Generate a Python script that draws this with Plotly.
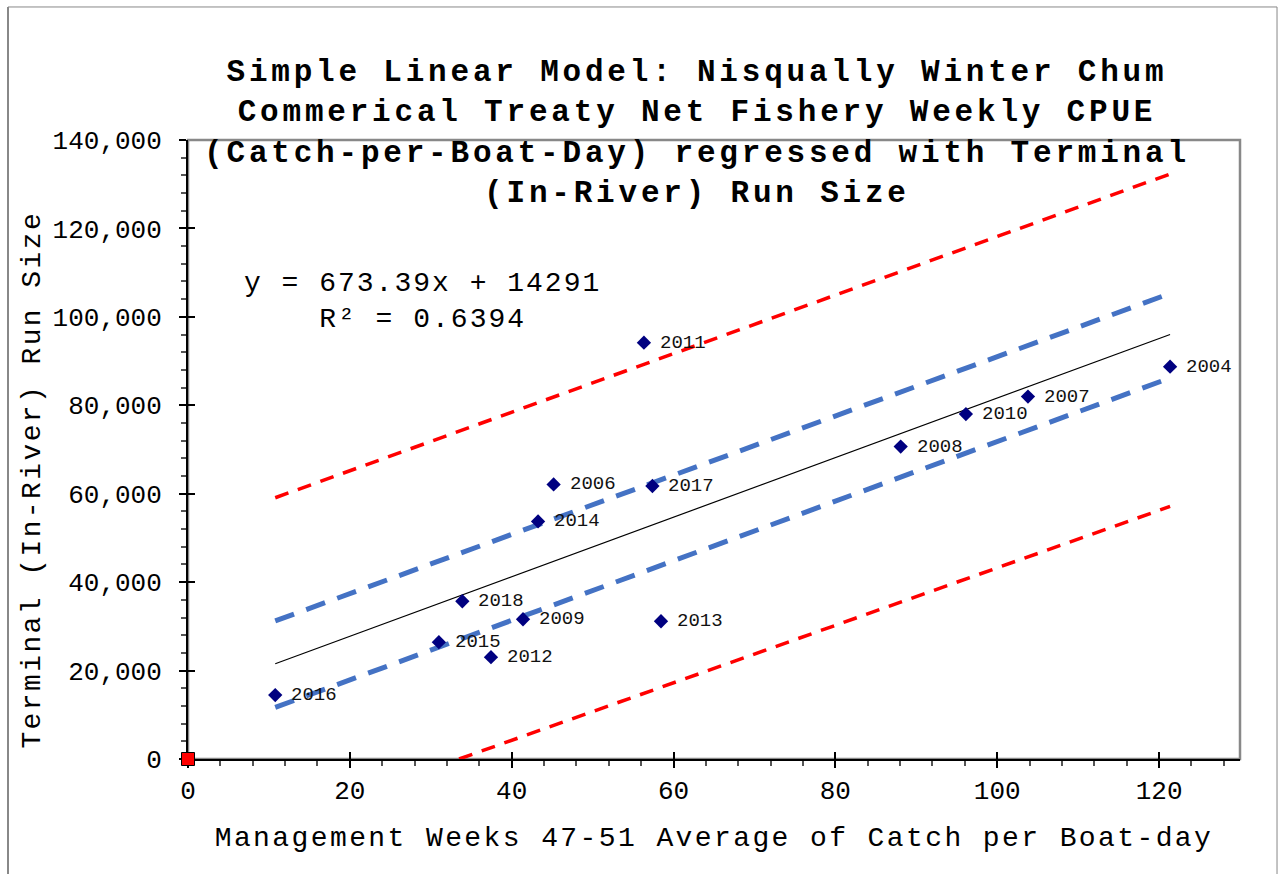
import plotly.graph_objects as go

# ---------------- data ----------------
years = ["2016", "2015", "2018", "2012", "2009", "2014", "2006", "2011",
         "2017", "2013", "2008", "2010", "2007", "2004"]
cpue = [10.78, 31.0, 33.9, 37.44, 41.4, 43.26, 45.18, 56.34,
        57.39, 58.45, 88.07, 96.13, 103.8, 121.36]
run_size = [14450, 26420, 35680, 23030, 31610, 53740, 62090, 94150,
            61750, 31160, 70670, 78010, 81960, 88730]

trend_x = [10.78, 121.36]
trend_y = [21550, 96010]
blue_upper_y = [31230, 105290]
blue_lower_y = [11670, 86180]
red_upper_x = [10.78, 121.36]
red_upper_y = [59090, 132310]
red_lower_x = [33.5, 121.36]
red_lower_y = [0, 57120]

origin_x = [0]
origin_y = [0]

x_ticks = [0, 20, 40, 60, 80, 100, 120]
y_ticks = [0, 20000, 40000, 60000, 80000, 100000, 120000, 140000]

title_lines = ["Simple Linear Model: Nisqually Winter Chum",
               "Commerical Treaty Net Fishery Weekly CPUE",
               "(Catch-per-Boat-Day) regressed with Terminal",
               "(In-River) Run Size"]
equation_lines = ["y = 673.39x + 14291", "R\u00b2 = 0.6394"]
x_title = "Management Weeks 47-51 Average of Catch per Boat-day"
y_title = "Terminal (In-River) Run Size"

MONO = "Liberation Mono, Courier New, monospace"

# ---------------- figure ----------------
fig = go.Figure()

fig.add_trace(go.Scatter(x=red_upper_x, y=red_upper_y, mode="lines",
                         line=dict(color="#FF0000", width=3.5, dash="14px,10px"),
                         hoverinfo="skip", showlegend=False))
fig.add_trace(go.Scatter(x=red_lower_x, y=red_lower_y, mode="lines",
                         line=dict(color="#FF0000", width=3.5, dash="14px,10px"),
                         hoverinfo="skip", showlegend=False))
fig.add_trace(go.Scatter(x=trend_x, y=blue_upper_y, mode="lines",
                         line=dict(color="#4472C4", width=5, dash="20px,13px"),
                         hoverinfo="skip", showlegend=False))
fig.add_trace(go.Scatter(x=trend_x, y=blue_lower_y, mode="lines",
                         line=dict(color="#4472C4", width=5, dash="20px,13px"),
                         hoverinfo="skip", showlegend=False))
fig.add_trace(go.Scatter(x=trend_x, y=trend_y, mode="lines",
                         line=dict(color="#000000", width=1.2),
                         hoverinfo="skip", showlegend=False))
fig.add_trace(go.Scatter(x=cpue, y=run_size, mode="markers",
                         marker=dict(symbol="diamond", size=11, color="#000080"),
                         text=years, showlegend=False))
fig.add_trace(go.Scatter(x=origin_x, y=origin_y, mode="markers",
                         marker=dict(symbol="square", size=13, color="#FF0000",
                                     line=dict(color="#000000", width=1)),
                         cliponaxis=False, showlegend=False,
                         xaxis="x2", yaxis="y2"))

# plot-area border (gray top/right) and outer chart frame
fig.add_shape(type="rect", xref="paper", yref="paper", x0=0, y0=0, x1=1, y1=1,
              line=dict(color="#888888", width=2.5), layer="below")
fig.add_shape(type="line", xref="paper", yref="paper", x0=-0.1711, x1=-0.1711,
              y0=-0.25, y1=1.2149, line=dict(color="#888888", width=2))
fig.add_shape(type="line", xref="paper", yref="paper", x0=-0.1711, x1=1.0352,
              y0=1.2149, y1=1.2149, line=dict(color="#888888", width=1))
fig.add_shape(type="line", xref="paper", yref="paper", x0=1.0352, x1=1.0352,
              y0=-0.25, y1=1.2149, line=dict(color="#888888", width=1))

axis_common = dict(showgrid=False, zeroline=False, showline=True,
                   linecolor="#000000", linewidth=2, layer="below traces",
                   ticks="outside", ticklen=7, tickwidth=1.5, tickcolor="#000000",
                   tickfont=dict(family=MONO, size=26, color="#000000"))

# data labels for each point (to the right of each marker)
annotations = [
    dict(text=yr, x=xv, y=yv, xref="x", yref="y", xanchor="left",
         yanchor="middle", xshift=14, showarrow=False,
         font=dict(family=MONO, size=19, color="#111111"))
    for yr, xv, yv in zip(years, cpue, run_size)
]
annotations += [
    dict(text="<br>".join(equation_lines), xref="paper", yref="paper",
         x=0.2229, y=(759 - 266) / 619, xanchor="center", yanchor="top",
         showarrow=False, align="center", name="equation",
         font=dict(family=MONO, size=28, color="#000000")),
    dict(text=y_title, xref="paper", yref="paper", textangle=-90,
         x=(33 - 188) / 1052, y=(759 - 480) / 619, name="ytitle",
         xanchor="center", yanchor="middle", showarrow=False,
         font=dict(family=MONO, size=28, color="#000000")),
]

fig.update_layout(
    width=1282, height=874,
    paper_bgcolor="white", plot_bgcolor="white",
    margin=dict(l=188, r=42, t=140, b=115),
    title=dict(text="<br>".join(title_lines),
               font=dict(family=MONO, size=31, color="#000000", weight="bold"),
               x=0.4838, xref="paper", xanchor="center",
               y=1 - 81 / 874, yref="container", yanchor="top"),
    xaxis=dict(range=[0, 130], tickvals=x_ticks, ticklabelstandoff=0,
               minor=dict(dtick=4, tick0=0, ticks="outside", ticklen=5,
                          tickwidth=1.5, tickcolor="#555555"),
               title=dict(text=x_title,
                          font=dict(family=MONO, size=28, color="#000000"),
                          standoff=20),
               **axis_common),
    yaxis=dict(range=[0, 140000], tickvals=y_ticks, tickformat=",",
               ticklabelstandoff=12,
               minor=dict(dtick=4000, tick0=0, ticks="outside", ticklen=5,
                          tickwidth=1.5, tickcolor="#555555"),
               **axis_common),
    xaxis2=dict(range=[0, 130], overlaying="x", tickvals=x_ticks,
                ticks="inside", ticklen=7, tickwidth=1.5, tickcolor="#000000",
                showticklabels=False, showline=False, showgrid=False,
                zeroline=False, layer="below traces"),
    yaxis2=dict(range=[0, 140000], overlaying="y", tickvals=y_ticks,
                ticks="inside", ticklen=7, tickwidth=1.5, tickcolor="#000000",
                showticklabels=False, showline=False, showgrid=False,
                zeroline=False, layer="below traces"),
    annotations=annotations,
)

n_labels = len(years)
post = """
document.body.style.margin = '0';
document.body.style.padding = '0';
var gd = document.getElementById('{plot_id}');
function applySpacing(){
  var rules = [['.gtitle', '3.8px'], ['.g-xtitle text', '2.4px'],
               ['.annotation[data-index="%d"] text', '2px'],
               ['.annotation[data-index="%d"] text', '2.4px']];
  rules.forEach(function(r){
    gd.querySelectorAll(r[0]).forEach(function(el){
      el.style.letterSpacing = r[1];
    });
  });
}
applySpacing();
if (gd.on) { gd.on('plotly_afterplot', applySpacing); }
""" % (n_labels, n_labels + 1)

fig.write_html("out.html", post_script=post, config={"displayModeBar": False})
